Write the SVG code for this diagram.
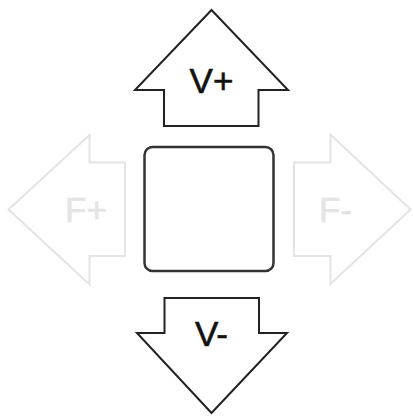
<svg xmlns="http://www.w3.org/2000/svg" width="413" height="417" viewBox="0 0 413 417">
<style>
.arrow{fill:#fff;stroke:#222;stroke-width:2;stroke-linejoin:miter}
.faint{fill:#fff;stroke:#e4e4e4;stroke-width:2}
.lbl{font-family:"Liberation Sans",Arial,sans-serif;font-size:35px;text-anchor:middle;fill:#111;stroke:#111;stroke-width:0.6}
.flbl{font-family:"Liberation Sans",Arial,sans-serif;font-size:35px;text-anchor:middle;fill:#e4e4e4;stroke:#e4e4e4;stroke-width:0.6}
</style>
<rect width="413" height="417" fill="#fff"/>
<g id="vplus">
<polygon class="arrow" points="211.5,10 288,90 258.5,90 258.5,126 164,126 164,90 135,90"/>
<text class="lbl" x="211.5" y="93">V+</text>
</g>
<g id="vminus">
<polygon class="arrow" points="164.5,298 259,298 259,333 287,333 211.5,413 137,333 164.5,333"/>
<text class="lbl" x="211.5" y="346">V-</text>
</g>
<g id="fplus">
<polygon class="faint" points="8.5,209.5 89.5,135 89.5,162.5 125,162.5 125,256 89.5,256 89.5,284.5"/>
<text class="flbl" x="86" y="221.5">F+</text>
</g>
<g id="fminus">
<polygon class="faint" points="410.5,209.5 330.5,134.5 330.5,162.5 294,162.5 294,256 330.5,256 330.5,284"/>
<text class="flbl" x="335.5" y="221.5">F-</text>
</g>
<g id="center">
<rect x="144.5" y="147" width="129" height="124" rx="8" ry="8" fill="#fff" stroke="#333" stroke-width="2.5"/>
</g>
<g id="connectors"/>
</svg>
